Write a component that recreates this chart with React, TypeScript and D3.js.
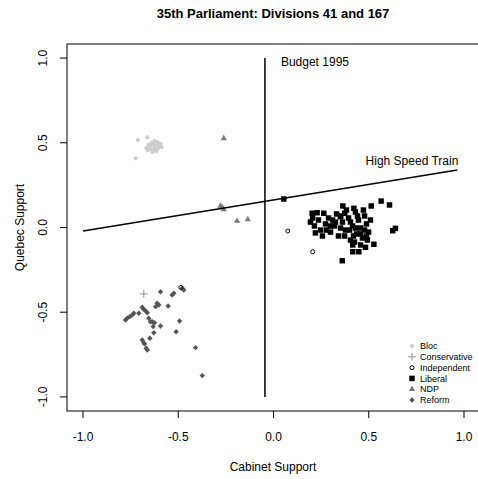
import React from 'react';
import * as d3 from 'd3';

// member positions [cabinet support, quebec support]
const bloc: [number, number][] = [
  [-0.712, 0.516], [-0.663, 0.532], [-0.724, 0.408], [-0.656, 0.487], [-0.64, 0.499],
  [-0.625, 0.51], [-0.609, 0.504], [-0.593, 0.493], [-0.588, 0.475], [-0.604, 0.469],
  [-0.625, 0.475], [-0.646, 0.463], [-0.661, 0.457], [-0.635, 0.445], [-0.614, 0.451],
  [-0.651, 0.481], [-0.619, 0.493], [-0.63, 0.457], [-0.667, 0.469], [-0.646, 0.481],
  [-0.604, 0.487], [-0.63, 0.493], [-0.614, 0.463],
];
const conservative: [number, number][] = [[-0.681, -0.392]];
const independent: [number, number][] = [[0.075, -0.021], [0.206, -0.143], [-0.486, -0.354]];
const liberal: [number, number][] = [
  [0.054, 0.168], [0.364, 0.127], [0.513, 0.127], [0.565, 0.156], [0.609, 0.133],
  [0.203, 0.084], [0.229, 0.087], [0.264, 0.084], [0.64, -0.005], [0.626, -0.019],
  [0.527, -0.099], [0.416, -0.103], [0.416, -0.143], [0.448, -0.143], [0.483, -0.117],
  [0.457, -0.103], [0.361, -0.196], [0.422, 0.113], [0.374, 0.084], [0.352, 0.064],
  [0.194, 0.032], [0.215, 0.009], [0.236, 0.044], [0.247, -0.015], [0.273, 0.021],
  [0.289, 0.056], [0.299, -0.027], [0.32, 0.009], [0.331, 0.08], [0.341, -0.05],
  [0.362, 0.032], [0.378, -0.015], [0.394, 0.056], [0.404, -0.074], [0.415, 0.009],
  [0.43, 0.091], [0.436, -0.038], [0.446, 0.044], [0.457, -0.003], [0.467, -0.062],
  [0.478, 0.068], [0.488, 0.021], [0.499, -0.027], [0.509, 0.044], [0.383, 0.103],
  [0.31, 0.044], [0.257, -0.05], [0.22, -0.032], [0.352, -0.003], [0.425, -0.086],
  [0.472, 0.103], [0.493, -0.074], [0.205, 0.056], [0.278, -0.015], [0.325, 0.032],
  [0.373, -0.05], [0.404, 0.032], [0.43, -0.003], [0.457, -0.038], [0.478, -0.015],
  [0.399, -0.015], [0.441, 0.068], [0.352, 0.068], [0.299, 0.009], [0.488, -0.05],
  [0.42, -0.05],
];
const ndp: [number, number][] = [
  [-0.261, 0.526], [-0.278, 0.127], [-0.269, 0.119], [-0.261, 0.107], [-0.191, 0.038], [-0.135, 0.048],
];
const reform: [number, number][] = [
  [-0.593, -0.379], [-0.532, -0.398], [-0.523, -0.388], [-0.479, -0.359], [-0.471, -0.369],
  [-0.611, -0.447], [-0.602, -0.457], [-0.619, -0.467], [-0.553, -0.463], [-0.689, -0.471],
  [-0.681, -0.483], [-0.672, -0.491], [-0.663, -0.503], [-0.707, -0.506], [-0.733, -0.506],
  [-0.742, -0.516], [-0.754, -0.526], [-0.768, -0.536], [-0.777, -0.546], [-0.655, -0.536],
  [-0.646, -0.556], [-0.637, -0.556], [-0.625, -0.562], [-0.493, -0.552], [-0.593, -0.581],
  [-0.632, -0.585], [-0.628, -0.621], [-0.511, -0.615], [-0.649, -0.654], [-0.689, -0.664],
  [-0.681, -0.68], [-0.677, -0.687], [-0.668, -0.713], [-0.663, -0.723], [-0.409, -0.709],
  [-0.374, -0.874],
];

// cutting lines of the two divisions
const budgetLine: [number, number][] = [[-0.045, 1.0], [-0.045, -1.0]];
const trainLine: [number, number][] = [[-1.0, -0.02], [0.965, 0.34]];

const ticks = [-1.0, -0.5, 0.0, 0.5, 1.0];
const parties = ['Bloc', 'Conservative', 'Independent', 'Liberal', 'NDP', 'Reform'];

const W = 478;
const H = 479;
const font = 'Liberation Sans, Arial, Helvetica, sans-serif';

const x = d3.scaleLinear().domain([-1.084, 1.084]).range([67, 480]);
const y = d3.scaleLinear().domain([-1.083, 1.083]).range([411, 44]);

const sq = d3.symbol().type(d3.symbolSquare).size(30)()!;
const tri = d3.symbol().type(d3.symbolTriangle).size(17)()!;

function Mark({ party, px, py }: { party: string; px: number; py: number }) {
  const t = `translate(${px},${py})`;
  switch (party) {
    case 'Bloc':
      return <circle cx={px} cy={py} r={2.1} fill="#cdcdcd" />;
    case 'Conservative':
      return (
        <path d={`M${px - 4},${py}H${px + 4}M${px},${py - 4}V${py + 4}`} stroke="#909090" strokeWidth={1} />
      );
    case 'Independent':
      return <circle cx={px} cy={py} r={2} fill="none" stroke="#000" strokeWidth={1} />;
    case 'Liberal':
      return <path d={sq} transform={t} fill="#000" />;
    case 'NDP':
      return <path d={tri} transform={t} fill="#7a7a7a" />;
    default:
      return <path d="M0,-2.7L2.7,0L0,2.7L-2.7,0Z" transform={t} fill="#555" />;
  }
}

const groups: [string, [number, number][]][] = [
  ['Bloc', bloc],
  ['NDP', ndp],
  ['Reform', reform],
  ['Conservative', conservative],
  ['Liberal', liberal],
  ['Independent', independent],
];

export default function App() {
  const line = d3.line<[number, number]>().x((d) => x(d[0])).y((d) => y(d[1]));
  const x0 = x.range()[0];
  const y1 = y.range()[0];

  return (
    <svg width={W} height={H} style={{ position: 'absolute', left: 0, top: 0, background: '#fff' }} fontFamily={font}>
      <text x={273} y={18} textAnchor="middle" fontSize={13} fontWeight="bold">
        35th Parliament: Divisions 41 and 167
      </text>

      {/* points */}
      {groups.map(([name, pts]) =>
        pts.map((d, i) => <Mark key={name + i} party={name} px={x(d[0])} py={y(d[1])} />)
      )}

      {/* cutting lines */}
      <path d={line(budgetLine)!} stroke="#000" strokeWidth={1.5} fill="none" />
      <path d={line(trainLine)!} stroke="#000" strokeWidth={1.5} fill="none" />
      <text x={x(budgetLine[0][0]) + 16} y={y(budgetLine[0][1]) + 8} fontSize={12}>Budget 1995</text>
      <text x={x(trainLine[1][0]) + 1} y={y(trainLine[1][1]) - 5} fontSize={12} textAnchor="end">High Speed Train</text>

      {/* frame */}
      <rect x={x0} y={y.range()[1]} width={x.range()[1] - x0} height={y1 - y.range()[1]} fill="none" stroke="#000" strokeWidth={1} />

      {/* x axis */}
      {ticks.map((t) => (
        <g key={'x' + t}>
          <line x1={x(t)} x2={x(t)} y1={y1} y2={y1 + 7} stroke="#000" />
          <text x={x(t)} y={y1 + 30} fontSize={12} textAnchor="middle">{t.toFixed(1)}</text>
        </g>
      ))}
      <text x={273} y={471} fontSize={12} textAnchor="middle">Cabinet Support</text>

      {/* y axis */}
      {ticks.map((t) => (
        <g key={'y' + t}>
          <line x1={x0} x2={x0 - 7} y1={y(t)} y2={y(t)} stroke="#000" />
          <text transform={`translate(${x0 - 20},${y(t)}) rotate(-90)`} fontSize={12} textAnchor="middle">
            {t.toFixed(1)}
          </text>
        </g>
      ))}
      <text transform={`translate(24,${y(0)}) rotate(-90)`} fontSize={12} textAnchor="middle">Quebec Support</text>

      {/* legend */}
      {parties.map((p, i) => (
        <g key={p}>
          <Mark party={p} px={412} py={346 + i * 10.8} />
          <text x={420} y={346 + i * 10.8 + 3.2} fontSize={9}>{p}</text>
        </g>
      ))}
    </svg>
  );
}
